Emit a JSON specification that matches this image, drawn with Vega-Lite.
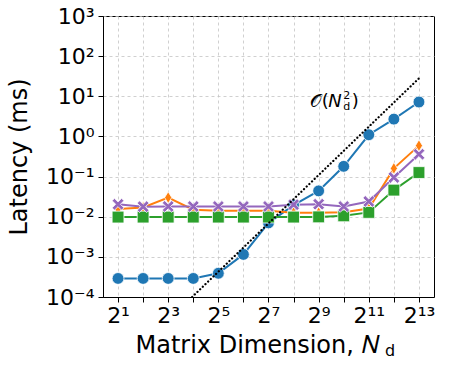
{
  "$schema": "https://vega.github.io/schema/vega-lite/v6.json",
  "width": 331,
  "height": 281,
  "autosize": "none",
  "padding": {"left": 103, "top": 16, "right": 15, "bottom": 70},
  "background": "white",
  "config": {
    "font": "DejaVu Sans",
    "view": {"stroke": "black", "strokeWidth": 1},
    "axis": {
      "domainColor": "black",
      "tickColor": "black",
      "labelColor": "black",
      "titleColor": "black",
      "labelFont": "DejaVu Sans",
      "titleFont": "DejaVu Sans",
      "labelFontSize": 22,
      "titleFontSize": 24,
      "titleFontWeight": "normal",
      "gridColor": "#c4c4c4",
      "gridDash": [3, 3],
      "gridWidth": 0.8,
      "tickSize": 5
    }
  },
  "datasets": {
    "series": [
      {"N": 2, "v": 0.00029, "s": "A"},
      {"N": 4, "v": 0.00029, "s": "A"},
      {"N": 8, "v": 0.00029, "s": "A"},
      {"N": 16, "v": 0.00029, "s": "A"},
      {"N": 32, "v": 0.00039, "s": "A"},
      {"N": 64, "v": 0.00115, "s": "A"},
      {"N": 128, "v": 0.007, "s": "A"},
      {"N": 256, "v": 0.0195, "s": "A"},
      {"N": 512, "v": 0.044, "s": "A"},
      {"N": 1024, "v": 0.18, "s": "A"},
      {"N": 2048, "v": 1.1, "s": "A"},
      {"N": 4096, "v": 2.7, "s": "A"},
      {"N": 8192, "v": 7.2, "s": "A"},
      {"N": 2, "v": 0.0155, "s": "B"},
      {"N": 4, "v": 0.017, "s": "B"},
      {"N": 8, "v": 0.03, "s": "B"},
      {"N": 16, "v": 0.015, "s": "B"},
      {"N": 32, "v": 0.014, "s": "B"},
      {"N": 64, "v": 0.014, "s": "B"},
      {"N": 128, "v": 0.014, "s": "B"},
      {"N": 256, "v": 0.0126, "s": "B"},
      {"N": 512, "v": 0.0126, "s": "B"},
      {"N": 1024, "v": 0.013, "s": "B"},
      {"N": 2048, "v": 0.016, "s": "B"},
      {"N": 4096, "v": 0.16, "s": "B"},
      {"N": 8192, "v": 0.59, "s": "B"},
      {"N": 2, "v": 0.0098, "s": "C"},
      {"N": 4, "v": 0.0098, "s": "C"},
      {"N": 8, "v": 0.0098, "s": "C"},
      {"N": 16, "v": 0.0098, "s": "C"},
      {"N": 32, "v": 0.0098, "s": "C"},
      {"N": 64, "v": 0.0098, "s": "C"},
      {"N": 128, "v": 0.0098, "s": "C"},
      {"N": 256, "v": 0.0098, "s": "C"},
      {"N": 512, "v": 0.0099, "s": "C"},
      {"N": 1024, "v": 0.0105, "s": "C"},
      {"N": 2048, "v": 0.0128, "s": "C"},
      {"N": 4096, "v": 0.046, "s": "C"},
      {"N": 8192, "v": 0.126, "s": "C"},
      {"N": 2, "v": 0.0204, "s": "D"},
      {"N": 4, "v": 0.0178, "s": "D"},
      {"N": 8, "v": 0.018, "s": "D"},
      {"N": 16, "v": 0.018, "s": "D"},
      {"N": 32, "v": 0.018, "s": "D"},
      {"N": 64, "v": 0.018, "s": "D"},
      {"N": 128, "v": 0.018, "s": "D"},
      {"N": 256, "v": 0.02, "s": "D"},
      {"N": 512, "v": 0.0205, "s": "D"},
      {"N": 1024, "v": 0.018, "s": "D"},
      {"N": 2048, "v": 0.024, "s": "D"},
      {"N": 4096, "v": 0.095, "s": "D"},
      {"N": 8192, "v": 0.36, "s": "D"}
    ],
    "guide": [
      {"N": 15.5, "v": 0.0001},
      {"N": 8192, "v": 28}
    ],
    "note": [{"N": 401, "v": 7.3}],
    "sub": [{"N": 3200, "v": 0.0001}]
  },
  "encoding": {
    "x": {
      "field": "N",
      "type": "quantitative",
      "scale": {"type": "log", "base": 2, "domain": [1.32, 12417], "nice": false},
      "axis": {
        "values": [2, 4, 8, 16, 32, 64, 128, 256, 512, 1024, 2048, 4096, 8192],
        "labelExpr": "indexof([2,8,32,128,512,2048,8192], datum.value) >= 0 ? ['2¹','2³','2⁵','2⁷','2⁹','2¹¹','2¹³'][indexof([2,8,32,128,512,2048,8192], datum.value)] : ''",
        "title": "Matrix Dimension, 𝑁",
        "titleAlign": "left",
        "titleAnchor": null,
        "titleX": 32,
        "titleY": 55,
        "titleBaseline": "alphabetic",
        "labelPadding": 3,
        "labelFlush": false,
        "labelOverlap": false
      }
    },
    "y": {
      "field": "v",
      "type": "quantitative",
      "scale": {"type": "log", "domain": [0.0001, 1000], "nice": false},
      "axis": {
        "values": [0.0001, 0.001, 0.01, 0.1, 1, 10, 100, 1000],
        "labelExpr": "datum.value < 0.0005 ? '10⁻⁴' : datum.value < 0.005 ? '10⁻³' : datum.value < 0.05 ? '10⁻²' : datum.value < 0.5 ? '10⁻¹' : datum.value < 5 ? '10⁰' : datum.value < 50 ? '10¹' : datum.value < 500 ? '10²' : '10³'",
        "title": "Latency (ms)",
        "titleX": -72,
        "titleY": 140.5,
        "titleAnchor": null,
        "labelPadding": 4,
        "labelFlush": false,
        "labelOverlap": false
      }
    }
  },
  "layer": [
    {
      "data": {"name": "series"},
      "mark": {"type": "line", "strokeWidth": 2},
      "encoding": {
        "color": {
          "field": "s", "type": "nominal", "legend": null,
          "scale": {"domain": ["A", "B", "C", "D"], "range": ["#1f77b4", "#ff7f0e", "#2ca02c", "#9467bd"]}
        },
        "detail": {"field": "s"}
      }
    },
    {
      "data": {"name": "series"},
      "mark": {"type": "point", "filled": true, "opacity": 1, "size": 140, "stroke": "white", "strokeWidth": 0.8},
      "encoding": {
        "color": {
          "field": "s", "type": "nominal", "legend": null,
          "scale": {"domain": ["A", "B", "C", "D"], "range": ["#1f77b4", "#ff7f0e", "#2ca02c", "#9467bd"]}
        },
        "fill": {
          "field": "s", "type": "nominal", "legend": null,
          "scale": {"domain": ["A", "B", "C", "D"], "range": ["#1f77b4", "#ff7f0e", "#2ca02c", "#9467bd"]}
        },
        "shape": {
          "field": "s", "type": "nominal", "legend": null,
          "scale": {"domain": ["A", "B", "C", "D"], "range": ["circle", "M0,-1L0.6,0L0,1L-0.6,0Z", "square", "M-1,-0.6L-0.6,-1L0,-0.4L0.6,-1L1,-0.6L0.4,0L1,0.6L0.6,1L0,0.4L-0.6,1L-1,0.6L-0.4,0Z"]}
        }
      }
    },
    {
      "data": {"name": "guide"},
      "mark": {"type": "line", "color": "black", "strokeWidth": 2.2, "strokeDash": [0.1, 3.6], "strokeCap": "round", "clip": true},
      "encoding": {}
    },
    {
      "data": {"name": "note"},
      "mark": {"type": "text", "align": "left", "baseline": "middle", "fontSize": 18, "color": "black", "text": "𝒪"},
      "encoding": {}
    },
    {
      "data": {"name": "note"},
      "mark": {"type": "text", "align": "left", "baseline": "middle", "fontSize": 18, "dx": 12, "color": "black", "text": "("},
      "encoding": {}
    },
    {
      "data": {"name": "note"},
      "mark": {"type": "text", "align": "left", "baseline": "middle", "fontSize": 18, "fontStyle": "italic", "dx": 18.5, "color": "black", "text": "N"},
      "encoding": {}
    },
    {
      "data": {"name": "note"},
      "mark": {"type": "text", "align": "left", "baseline": "middle", "fontSize": 11, "dx": 33.5, "dy": -6, "color": "black", "text": "2"},
      "encoding": {}
    },
    {
      "data": {"name": "note"},
      "mark": {"type": "text", "align": "left", "baseline": "middle", "fontSize": 11, "dx": 33.5, "dy": 5.5, "color": "black", "text": "d"},
      "encoding": {}
    },
    {
      "data": {"name": "note"},
      "mark": {"type": "text", "align": "left", "baseline": "middle", "fontSize": 18, "dx": 42, "color": "black", "text": ")"},
      "encoding": {}
    },
    {
      "data": {"name": "sub"},
      "mark": {"type": "text", "align": "left", "baseline": "middle", "fontSize": 16, "dy": 54, "color": "black", "text": "d"},
      "encoding": {}
    }
  ]
}
